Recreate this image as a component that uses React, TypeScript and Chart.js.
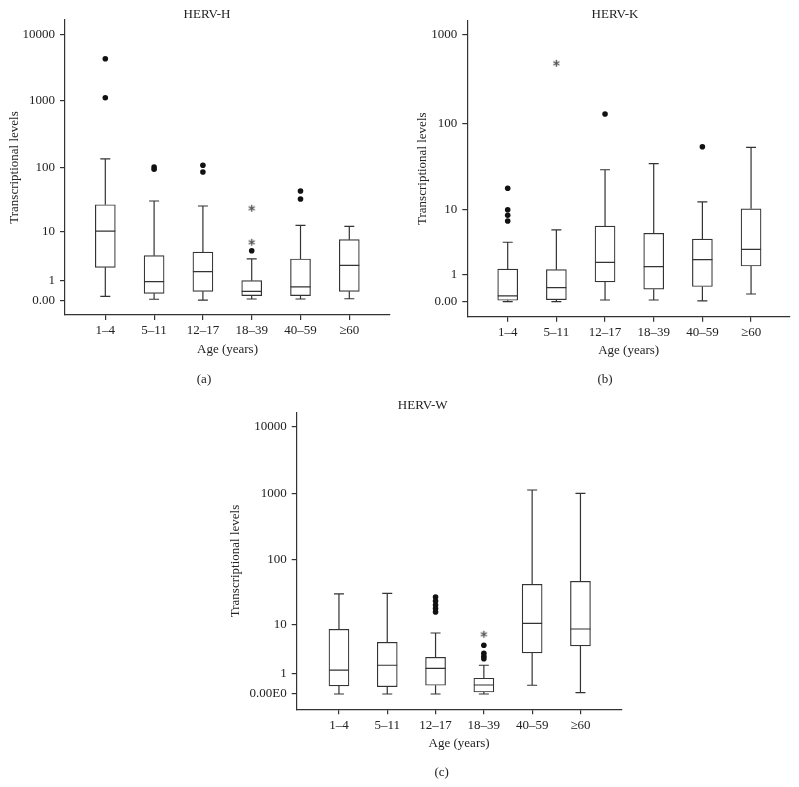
import React, { useEffect, useRef } from 'react';
import { Chart, registerables } from 'chart.js';

Chart.register(...registerables);

const categories = ['1–4', '5–11', '12–17', '18–39', '40–59', '≥60'];
const yTickValues = [0, 1, 10, 100, 1000, 10000];
const yTickLabelsAB = ['0.00', '1', '10', '100', '1000', '10000'];
const yTickLabelsC = ['0.00E0', '1', '10', '100', '1000', '10000'];

// HERV-H
const hLow = [0.16, 0.05, 0.02, 0.06, 0.06, 0.07];
const hQ1 = [2.17, 0.29, 0.38, 0.19, 0.19, 0.38];
const hMed = [10.1, 0.93, 1.73, 0.38, 0.61, 2.4];
const hQ3 = [26.6, 3.74, 4.38, 1.0, 3.23, 7.24];
const hHigh = [134, 30.4, 25.4, 3.23, 12.55, 12.1];
const hOutliers = [[4300, 1115], [101, 93], [107, 84.5], [4.63], [43.4, 32.7], []];
const hExtremes = [[], [], [], [23.4, 6.53], [], []];

// HERV-K
const kLow = [0, 0, 0.045, 0.045, 0.02, 0.22];
const kQ1 = [0.037, 0.053, 0.67, 0.38, 0.48, 1.52];
const kMed = [0.16, 0.44, 1.77, 1.48, 1.97, 2.88];
const kQ3 = [1.33, 1.29, 6.1, 4.88, 4.07, 10.1];
const kHigh = [3.66, 5.41, 29.5, 34.7, 12.3, 53.5];
const kOutliers = [[17.9, 9.84, 8.37, 7.09], [], [128], [], [54.4], []];
const kExtremes = [[], [480], [], [], [], []];

// HERV-W
const wLow = [0, 0, 0, 0, 0.35, 0.045];
const wQ1 = [0.32, 0.285, 0.349, 0.07, 3.1, 4.22];
const wMed = [1.28, 1.69, 1.42, 0.363, 10.4, 8.37];
const wQ3 = [8.27, 4.93, 2.54, 0.72, 42.6, 47.4];
const wHigh = [30.3, 31, 7.16, 1.69, 1120, 1000];
const wOutliers = [[], [], [27.2, 23.6, 20.4, 18.0, 15.8], [4.35, 3.06, 2.66, 2.37], [], []];
const wExtremes = [[], [], [], [6.8], [], []];

const T = (v: number) => Math.log10(1 + v);

const FONT = '"Liberation Serif", "Times New Roman", serif';
const INK = '#222';
const LINE = '#333';

const boxPlugin = {
  id: 'boxWhisker',
  afterDatasetsDraw(chart: any) {
    const ds = chart.data.datasets[0] as any;
    const st = ds.stats;
    if (!st) return;
    const xs = chart.scales.x;
    const ys = chart.scales.y;
    const ctx = chart.ctx;
    ctx.save();
    ctx.strokeStyle = LINE;
    ctx.lineWidth = 1.2;
    const half = 10;
    const cap = 5;
    st.low.forEach((lo: number, i: number) => {
      const x = xs.getPixelForValue(i);
      const pLo = ys.getPixelForValue(T(lo));
      const pQ1 = ys.getPixelForValue(T(st.q1[i]));
      const pMed = ys.getPixelForValue(T(st.med[i]));
      const pQ3 = ys.getPixelForValue(T(st.q3[i]));
      const pHi = ys.getPixelForValue(T(st.high[i]));
      ctx.beginPath();
      ctx.moveTo(x, pQ3);
      ctx.lineTo(x, pHi);
      ctx.moveTo(x - cap, pHi);
      ctx.lineTo(x + cap, pHi);
      ctx.moveTo(x, pQ1);
      ctx.lineTo(x, pLo);
      ctx.moveTo(x - cap, pLo);
      ctx.lineTo(x + cap, pLo);
      ctx.moveTo(x - half, pMed);
      ctx.lineTo(x + half, pMed);
      ctx.stroke();
    });
    ctx.restore();
  },
};

const textPlugin = {
  id: 'panelText',
  afterDraw(chart: any, _args: any, opts: any) {
    const ctx = chart.ctx;
    ctx.save();
    ctx.font = `13px ${FONT}`;
    ctx.fillStyle = INK;
    ctx.textAlign = 'center';
    ctx.textBaseline = 'middle';
    ctx.fillText(opts.title, opts.titleX, opts.titleY);
    ctx.fillText(opts.tag, opts.tagX, opts.tagY);
    ctx.restore();
  },
};

function makeAsterisk() {
  const c = document.createElement('canvas');
  c.width = 9;
  c.height = 9;
  const g = c.getContext('2d')!;
  g.strokeStyle = '#555';
  g.lineWidth = 1.3;
  const cx = 4.5, cy = 4.5, r = 3.5;
  for (let k = 0; k < 3; k++) {
    const a = Math.PI / 2 + (k * Math.PI) / 3;
    g.beginPath();
    g.moveTo(cx + r * Math.cos(a), cy + r * Math.sin(a));
    g.lineTo(cx - r * Math.cos(a), cy - r * Math.sin(a));
    g.stroke();
  }
  return c;
}

type Panel = {
  low: number[]; q1: number[]; med: number[]; q3: number[]; high: number[];
  outliers: number[][]; extremes: number[][];
  yLabels: string[];
  yMin: number; yMax: number; xMin: number; xMax: number;
  padding: { left: number; top: number; right: number; bottom: number };
  yWidth: number; xHeight: number; yTitlePad: number;
  title: string; titleX: number; titleY: number;
  tag: string; tagX: number; tagY: number;
};

function makeConfig(p: Panel, star: HTMLCanvasElement): any {
  return {
    type: 'bar',
    data: {
      datasets: [
        {
          type: 'bar',
          data: categories.map((_, i) => ({ x: i, y: [T(p.q1[i]), T(p.q3[i])] })),
          backgroundColor: '#fff',
          borderColor: LINE,
          borderWidth: 1.2,
          borderSkipped: false,
          barThickness: 20,
          stats: { low: p.low, q1: p.q1, med: p.med, q3: p.q3, high: p.high },
        },
        {
          type: 'scatter',
          data: p.outliers.flatMap((arr, i) => arr.map((v) => ({ x: i, y: T(v) }))),
          pointRadius: 2.8,
          pointBackgroundColor: '#111',
          pointBorderWidth: 0,
          showLine: false,
        },
        {
          type: 'scatter',
          data: p.extremes.flatMap((arr, i) => arr.map((v) => ({ x: i, y: T(v) }))),
          pointStyle: star,
          pointRadius: 4,
          showLine: false,
        },
      ],
    },
    options: {
      responsive: false,
      animation: false,
      events: [],
      layout: { padding: p.padding },
      scales: {
        x: {
          type: 'linear',
          min: p.xMin,
          max: p.xMax,
          offset: false,
          afterBuildTicks: (s: any) => {
            s.ticks = categories.map((_, i) => ({ value: i }));
          },
          afterFit: (s: any) => {
            s.height = p.xHeight;
          },
          ticks: {
            autoSkip: false,
            maxRotation: 0,
            padding: 3,
            color: INK,
            font: { family: FONT, size: 13 },
            callback: (_v: any, i: number) => categories[i],
          },
          grid: { offset: false, drawOnChartArea: false, drawTicks: true, tickLength: 5, color: LINE, lineWidth: 1.2 },
          border: { display: true, color: LINE, width: 1.2 },
          title: {
            display: true,
            text: 'Age (years)',
            color: INK,
            font: { family: FONT, size: 13 },
            padding: { top: 0, bottom: 0 },
          },
        },
        y: {
          type: 'linear',
          min: p.yMin,
          max: p.yMax,
          afterBuildTicks: (s: any) => {
            s.ticks = yTickValues.map((v) => ({ value: T(v) }));
          },
          afterFit: (s: any) => {
            s.width = p.yWidth;
          },
          ticks: {
            padding: 5,
            color: INK,
            font: { family: FONT, size: 13 },
            callback: (_v: any, i: number) => p.yLabels[i],
          },
          grid: { drawOnChartArea: false, drawTicks: true, tickLength: 5, color: LINE, lineWidth: 1.2 },
          border: { display: true, color: LINE, width: 1.2 },
          title: {
            display: true,
            text: 'Transcriptional levels',
            color: INK,
            font: { family: FONT, size: 13 },
            padding: { top: p.yTitlePad, bottom: 0 },
          },
        },
      },
      plugins: {
        legend: { display: false },
        tooltip: { enabled: false },
        panelText: {
          title: p.title, titleX: p.titleX, titleY: p.titleY,
          tag: p.tag, tagX: p.tagX, tagY: p.tagY,
        },
      },
    },
    plugins: [boxPlugin, textPlugin],
  };
}

const panelA: Panel = {
  low: hLow, q1: hQ1, med: hMed, q3: hQ3, high: hHigh, outliers: hOutliers, extremes: hExtremes,
  yLabels: yTickLabelsAB,
  yMin: -0.215, yMax: 4.215, xMin: -0.826, xMax: 5.834,
  padding: { left: 0, top: 20, right: 10, bottom: 37.2 },
  yWidth: 65, xHeight: 42.8, yTitlePad: 7.2,
  title: 'HERV-H', titleX: 207, titleY: 15, tag: '(a)', tagX: 204, tagY: 380,
};

const panelB: Panel = {
  low: kLow, q1: kQ1, med: kMed, q3: kQ3, high: kHigh, outliers: kOutliers, extremes: kExtremes,
  yLabels: yTickLabelsAB,
  yMin: -0.169, yMax: 3.161, xMin: -0.83, xMax: 5.8,
  padding: { left: 0, top: 20.7, right: 9, bottom: 36.2 },
  yWidth: 67.3, xHeight: 42.1, yTitlePad: 14.9,
  title: 'HERV-K', titleX: 215, titleY: 15, tag: '(b)', tagX: 205, tagY: 380,
};

const panelC: Panel = {
  low: wLow, q1: wQ1, med: wMed, q3: wQ3, high: wHigh, outliers: wOutliers, extremes: wExtremes,
  yLabels: yTickLabelsC,
  yMin: -0.229, yMax: 4.205, xMin: -0.875, xMax: 5.85,
  padding: { left: 0, top: 22.7, right: 8.5, bottom: 35.2 },
  yWidth: 96.7, xHeight: 42.5, yTitlePad: 28.2,
  title: 'HERV-W', titleX: 222.7, titleY: 16, tag: '(c)', tagX: 241.7, tagY: 383,
};

function PanelChart({ panel, left, top, width, height }: { panel: Panel; left: number; top: number; width: number; height: number }) {
  const ref = useRef<HTMLCanvasElement | null>(null);
  useEffect(() => {
    if (!ref.current) return;
    const chart = new Chart(ref.current, makeConfig(panel, makeAsterisk()));
    return () => chart.destroy();
  }, [panel]);
  return (
    <canvas
      ref={ref}
      width={width}
      height={height}
      style={{ position: 'absolute', left, top, width, height }}
    />
  );
}

export default function App() {
  return (
    <div style={{ position: 'absolute', left: 0, top: 0, width: 799, height: 787, background: '#fff', overflow: 'hidden' }}>
      <PanelChart panel={panelA} left={0} top={0} width={400} height={395} />
      <PanelChart panel={panelB} left={400} top={0} width={399} height={395} />
      <PanelChart panel={panelC} left={200} top={390} width={430} height={397} />
    </div>
  );
}
